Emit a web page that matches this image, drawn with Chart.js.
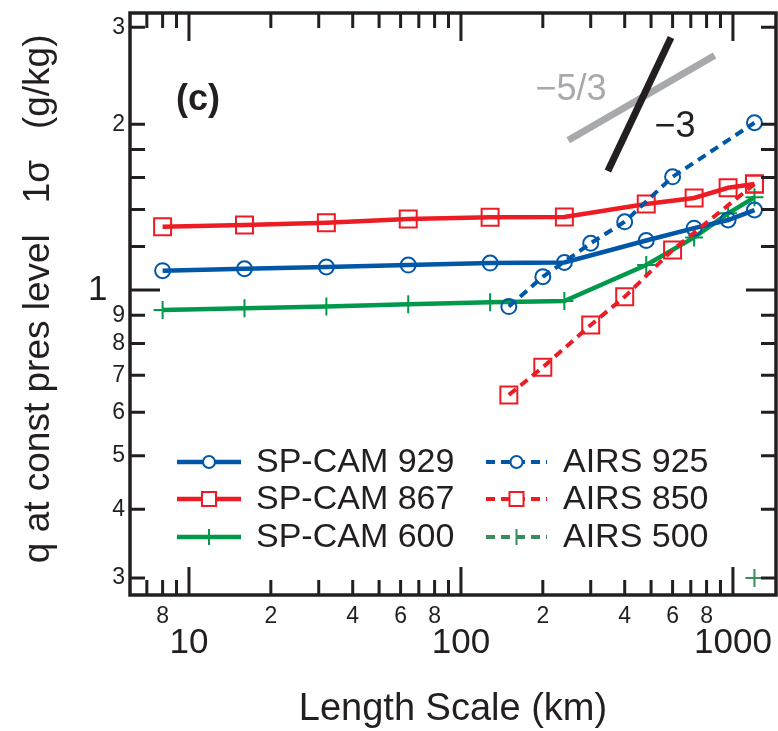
<!DOCTYPE html>
<html>
<head>
<meta charset="utf-8">
<script src="https://cdn.jsdelivr.net/npm/chart.js@4.4.1/dist/chart.umd.min.js"></script>
<style>
  html, body { margin: 0; padding: 0; background: #fff; }
  #wrap { width: 778px; height: 731px; }
</style>
</head>
<body>
<div id="wrap"><canvas id="qChart" width="778" height="731"></canvas></div>
<script>
// length scale (km) and q std dev (g/kg)
const spcamScale = [8, 16, 32, 64, 128, 240, 480, 720, 960, 1200];
const spcam929 = [1.084, 1.093, 1.101, 1.110, 1.119, 1.122, 1.230, 1.295, 1.340, 1.397];
const spcam867 = [1.303, 1.312, 1.325, 1.345, 1.355, 1.357, 1.433, 1.469, 1.533, 1.557];
const spcam600 = [0.920, 0.927, 0.933, 0.942, 0.950, 0.955, 1.110, 1.246, 1.378, 1.473];

const airsScale = [150, 200, 300, 400, 600, 1200];
const airs925 = [0.933, 1.057, 1.216, 1.330, 1.605, 2.012];
const airs850 = [0.645, 0.724, 0.864, 0.972, 1.182, 1.557];
const airs500Scale = [1200];
const airs500 = [0.30];

// reference slope lines (-5/3 and -3)
const slope53Scale = [248, 856];
const slope53 = [1.87, 2.666];
const slope3Scale = [347, 592];
const slope3 = [1.645, 2.873];

const xMarks = [7, 8, 9, 10, 20, 30, 40, 50, 60, 70, 80, 90, 100, 200, 300, 400, 500, 600, 700, 800, 900, 1000];
const xTicks = [8, 10, 20, 40, 60, 80, 100, 200, 400, 600, 800, 1000];
const xDecades = [10, 100, 1000];
const yTicks = [0.3, 0.4, 0.5, 0.6, 0.7, 0.8, 0.9, 1, 1.2, 1.4, 1.6, 1.8, 2, 3];
const yLabelled = [0.3, 0.4, 0.5, 0.6, 0.7, 0.8, 0.9, 2, 3];

const FONT = 'Helvetica, Arial, "Liberation Sans", sans-serif';
const INK = '#231f20';
const BLUE = '#0057a8';
const RED = '#ed1c24';
const GREEN = '#00994c';
const GREEN2 = '#3a8c5c';

const pts = (xs, ys) => xs.map((x, i) => ({ x: x, y: ys[i] }));

const datasets = [
  { label: 'AIRS 925', data: pts(airsScale, airs925), borderColor: BLUE, borderWidth: 4, borderDash: [9, 6],
    pointStyle: 'circle', pointRadius: 7.5, pointBorderWidth: 2, pointBorderColor: BLUE, pointBackgroundColor: 'rgba(0,0,0,0)', order: 0, legendCol: 1, legendRow: 0 },
  { label: 'AIRS 850', data: pts(airsScale, airs850), borderColor: RED, borderWidth: 4, borderDash: [9, 6],
    pointStyle: 'rect', pointRadius: 12, pointBorderWidth: 2, pointBorderColor: RED, pointBackgroundColor: 'rgba(0,0,0,0)', order: 0, legendCol: 1, legendRow: 1 },
  { label: 'AIRS 500', data: pts(airs500Scale, airs500), borderColor: GREEN2, borderWidth: 4, borderDash: [9, 6],
    pointStyle: 'cross', pointRadius: 9, pointBorderWidth: 2, pointBorderColor: GREEN2, order: 0, legendCol: 1, legendRow: 2 },
  { label: 'SP-CAM 929', data: pts(spcamScale, spcam929), borderColor: BLUE, borderWidth: 4.5,
    pointStyle: 'circle', pointRadius: 7.5, pointBorderWidth: 2, pointBorderColor: BLUE, pointBackgroundColor: 'rgba(0,0,0,0)', order: 1, legendCol: 0, legendRow: 0 },
  { label: 'SP-CAM 867', data: pts(spcamScale, spcam867), borderColor: RED, borderWidth: 4.5,
    pointStyle: 'rect', pointRadius: 12, pointBorderWidth: 2, pointBorderColor: RED, pointBackgroundColor: 'rgba(0,0,0,0)', order: 1, legendCol: 0, legendRow: 1 },
  { label: 'SP-CAM 600', data: pts(spcamScale, spcam600), borderColor: GREEN, borderWidth: 4.5,
    pointStyle: 'cross', pointRadius: 9, pointBorderWidth: 2, pointBorderColor: GREEN, order: 1, legendCol: 0, legendRow: 2 },
  { label: 'slope -5/3', data: pts(slope53Scale, slope53), borderColor: '#a7a9ac', borderWidth: 7, pointRadius: 0, order: 3 },
  { label: 'slope -3', data: pts(slope3Scale, slope3), borderColor: INK, borderWidth: 7, pointRadius: 0, order: 2 }
];

// frame and inward tick marks on all four sides
const framePlugin = {
  id: 'frame',
  afterDraw(chart) {
    const { ctx, chartArea: a, scales } = chart;
    ctx.save();
    ctx.strokeStyle = INK;
    ctx.lineWidth = 3;
    ctx.beginPath();
    xMarks.forEach(v => {
      const px = scales.x.getPixelForValue(v);
      const len = xDecades.includes(v) ? 28 : 15;
      ctx.moveTo(px, a.bottom); ctx.lineTo(px, a.bottom - len);
      ctx.moveTo(px, a.top); ctx.lineTo(px, a.top + len);
    });
    yTicks.forEach(v => {
      const py = scales.y.getPixelForValue(v);
      const len = v === 1 ? 30 : 15;
      ctx.moveTo(a.left, py); ctx.lineTo(a.left + len, py);
      ctx.moveTo(a.right, py); ctx.lineTo(a.right - len, py);
    });
    ctx.stroke();
    ctx.lineWidth = 3.5;
    ctx.strokeRect(a.left, a.top, a.right - a.left, a.bottom - a.top);
    ctx.restore();
  }
};

// panel label and slope labels, placed in data units
const notes = [
  { text: '(c)', x: 10.8, y: 2.21, font: 'bold 36px ' + FONT, color: INK },
  { text: '\u22125/3', x: 254, y: 2.307, font: '36px ' + FONT, color: '#a7a9ac' },
  { text: '\u22123', x: 612, y: 1.976, font: '36px ' + FONT, color: INK }
];
const notesPlugin = {
  id: 'notes',
  afterDatasetsDraw(chart) {
    const { ctx, scales } = chart;
    ctx.save();
    ctx.textAlign = 'center';
    ctx.textBaseline = 'middle';
    notes.forEach(n => {
      ctx.font = n.font;
      ctx.fillStyle = n.color;
      ctx.fillText(n.text, scales.x.getPixelForValue(n.x), scales.y.getPixelForValue(n.y));
    });
    ctx.restore();
  }
};

// two-column legend inside the plot
const legendPlugin = {
  id: 'boxLegend',
  afterDraw(chart) {
    const { ctx } = chart;
    const cols = [{ x0: 177, x1: 241, tx: 256 }, { x0: 486, x1: 547, tx: 563 }];
    const rows = [462, 499, 537];
    ctx.save();
    chart.data.datasets.forEach(ds => {
      if (ds.legendCol === undefined) return;
      const c = cols[ds.legendCol];
      const y = rows[ds.legendRow];
      const mx = (c.x0 + c.x1) / 2;
      ctx.strokeStyle = ds.borderColor;
      ctx.lineWidth = ds.borderWidth;
      ctx.setLineDash(ds.borderDash || []);
      ctx.beginPath();
      ctx.moveTo(c.x0, y); ctx.lineTo(c.x1, y);
      ctx.stroke();
      ctx.setLineDash([]);
      ctx.lineWidth = 2;
      ctx.fillStyle = '#fff';
      if (ds.pointStyle === 'circle') {
        ctx.beginPath(); ctx.arc(mx, y, 6, 0, Math.PI * 2); ctx.fill(); ctx.stroke();
      } else if (ds.pointStyle === 'rect') {
        ctx.fillRect(mx - 7, y - 7, 14, 14); ctx.strokeRect(mx - 7, y - 7, 14, 14);
      } else {
        ctx.beginPath(); ctx.moveTo(mx, y - 8); ctx.lineTo(mx, y + 8); ctx.stroke();
      }
      ctx.fillStyle = INK;
      ctx.font = '34px ' + FONT;
      ctx.textAlign = 'left';
      ctx.textBaseline = 'middle';
      ctx.fillText(ds.label, c.tx, y + 1);
    });
    ctx.restore();
  }
};

new Chart(document.getElementById('qChart'), {
  type: 'line',
  data: { datasets: datasets },
  options: {
    responsive: false,
    animation: false,
    devicePixelRatio: 1,
    layout: { autoPadding: false, padding: { top: 13, right: 2, left: 0, bottom: 0 } },
    plugins: { legend: { display: false }, tooltip: { enabled: false } },
    scales: {
      x: {
        type: 'logarithmic',
        min: 6.07,
        max: 1440,
        grid: { display: false, drawTicks: false },
        border: { display: false },
        afterBuildTicks: s => { s.ticks = xTicks.map(v => ({ value: v })); },
        afterFit: s => { s.height = 136; s.paddingLeft = 0; s.paddingRight = 0; },
        ticks: {
          autoSkip: false,
          maxRotation: 0,
          minRotation: 0,
          padding: 9,
          color: INK,
          callback: v => xDecades.includes(v) ? ['', String(v)] : [String(v).charAt(0), ''],
          font: c => (c.tick && xDecades.includes(c.tick.value))
            ? { family: FONT, size: 35, lineHeight: 0.75 }
            : { family: FONT, size: 23, lineHeight: 1.14 }
        },
        title: {
          display: true,
          text: 'Length Scale (km)',
          color: INK,
          font: { family: FONT, size: 38, lineHeight: 1 },
          padding: { top: 0, bottom: 2 }
        }
      },
      y: {
        type: 'logarithmic',
        min: 0.2795,
        max: 3.183,
        grid: { display: false, drawTicks: false },
        border: { display: false },
        afterBuildTicks: s => { s.ticks = yTicks.map(v => ({ value: v })); },
        afterFit: s => { s.width = 130; s.paddingTop = 0; s.paddingBottom = 0; },
        ticks: {
          autoSkip: false,
          padding: 5,
          color: INK,
          callback: v => {
            if (v === 1) return '1\u2002';
            if (yLabelled.includes(v)) return v < 1 ? String(Math.round(v * 10)) : String(v);
            return '';
          },
          font: c => (c.tick && c.tick.value === 1)
            ? { family: FONT, size: 35 }
            : { family: FONT, size: 23 }
        },
        title: {
          display: true,
          text: ' q at const pres level   1\u03c3   (g/kg)',
          color: INK,
          font: { family: FONT, size: 37, lineHeight: 1 },
          padding: { top: 20, bottom: 0 }
        }
      }
    }
  },
  plugins: [framePlugin, notesPlugin, legendPlugin]
});
</script>
</body>
</html>
